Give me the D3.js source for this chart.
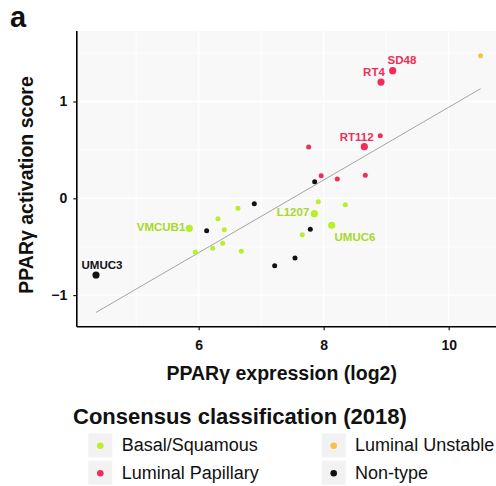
<!DOCTYPE html>
<html>
<head>
<meta charset="utf-8">
<script src="https://cdn.jsdelivr.net/npm/d3@7"></script>
<style>
  html, body { margin: 0; padding: 0; background: #fff; }
  svg { display: block; font-family: "Liberation Sans", Arial, sans-serif; }
</style>
</head>
<body>
<svg id="chart" width="496" height="486"></svg>
<script>
// ---- data ----
const cellLines = ["VMCUB1", "", "", "", "", "", "", "", "", "L1207", "", "UMUC6", "",
                   "RT4", "SD48", "RT112", "", "", "", "", "",
                   "UMUC3", "", "", "", "", "", "",
                   ""];
const expression = [5.85, 5.946, 6.224, 6.309, 6.384, 6.41, 6.629, 6.682, 7.658, 7.85, 7.914, 8.128, 8.346,
                    8.917, 9.104, 8.65, 8.906, 7.76, 7.96, 8.218, 8.666,
                    4.357, 6.128, 6.89, 7.216, 7.541, 7.786, 7.856,
                    10.51];
const activation = [-0.31, -0.555, -0.517, -0.211, -0.465, -0.324, -0.103, -0.548, -0.376, -0.159, -0.035, -0.279, -0.066,
                    1.201, 1.318, 0.533, 0.647, 0.53, 0.234, 0.199, 0.238,
                    -0.792, -0.335, -0.056, -0.696, -0.617, -0.32, 0.171,
                    1.473];
const subtype = ["Basal/Squamous","Basal/Squamous","Basal/Squamous","Basal/Squamous","Basal/Squamous","Basal/Squamous","Basal/Squamous","Basal/Squamous","Basal/Squamous","Basal/Squamous","Basal/Squamous","Basal/Squamous","Basal/Squamous",
                 "Luminal Papillary","Luminal Papillary","Luminal Papillary","Luminal Papillary","Luminal Papillary","Luminal Papillary","Luminal Papillary","Luminal Papillary",
                 "Non-type","Non-type","Non-type","Non-type","Non-type","Non-type","Non-type",
                 "Luminal Unstable"];
const legendOrder = ["Basal/Squamous", "Luminal Papillary", "Luminal Unstable", "Non-type"];
const xTicks = [6, 8, 10];
const yTicks = [-1, 0, 1];
const xMinor = [5, 7, 9];
const yMinor = [-0.5, 0.5, 1.5];

// ---- styles / layout ----
const colors = {
  "Basal/Squamous": "#bbee2a",
  "Luminal Papillary": "#f02d58",
  "Luminal Unstable": "#f7c343",
  "Non-type": "#111111"
};
const labelColors = {
  "Basal/Squamous": "#a6d92a",
  "Luminal Papillary": "#ec2e58",
  "Luminal Unstable": "#f7c343",
  "Non-type": "#111111"
};
const labelOffsets = {
  "SD48": [9.3, -10.7], "RT4": [-7, -10.5], "RT112": [-7.6, -9.7],
  "L1207": [-21.3, -1.7], "UMUC6": [23.3, 11.2], "VMCUB1": [-28.3, -1.6],
  "UMUC3": [6, -10]
};

const data = expression.map((x, i) => ({
  name: cellLines[i], x, y: activation[i], type: subtype[i]
}));

const svg = d3.select("#chart");
const P = { left: 76.8, right: 499.8, top: 31, bottom: 326.7 };
const x = d3.scaleLinear().domain([4.05, 10.818]).range([P.left, P.right]);
const y = d3.scaleLinear().domain([-1.326, 1.728]).range([P.bottom, P.top]);

// panel background
svg.append("rect").attr("x", P.left).attr("y", P.top)
  .attr("width", P.right - P.left).attr("height", P.bottom - P.top)
  .attr("fill", "#f8f8f8");

// grid
const g = svg.append("g");
g.selectAll(".xminor").data(xMinor).join("line")
  .attr("x1", d => x(d)).attr("x2", d => x(d)).attr("y1", P.top).attr("y2", P.bottom)
  .attr("stroke", "#fff").attr("stroke-width", 0.8);
g.selectAll(".yminor").data(yMinor).join("line")
  .attr("y1", d => y(d)).attr("y2", d => y(d)).attr("x1", P.left).attr("x2", P.right)
  .attr("stroke", "#fff").attr("stroke-width", 0.8);
g.selectAll(".xmajor").data(xTicks).join("line")
  .attr("x1", d => x(d)).attr("x2", d => x(d)).attr("y1", P.top).attr("y2", P.bottom)
  .attr("stroke", "#fff").attr("stroke-width", 1.3);
g.selectAll(".ymajor").data(yTicks).join("line")
  .attr("y1", d => y(d)).attr("y2", d => y(d)).attr("x1", P.left).attr("x2", P.right)
  .attr("stroke", "#fff").attr("stroke-width", 1.3);

// regression line (OLS computed from data)
const mx = d3.mean(data, d => d.x), my = d3.mean(data, d => d.y);
const slope = d3.sum(data, d => (d.x - mx) * (d.y - my)) / d3.sum(data, d => (d.x - mx) ** 2);
const icpt = my - slope * mx;
const [xmin, xmax] = d3.extent(data, d => d.x);
svg.append("line")
  .attr("x1", x(xmin)).attr("y1", y(icpt + slope * xmin))
  .attr("x2", x(xmax)).attr("y2", y(icpt + slope * xmax))
  .attr("stroke", "#9a9a9a").attr("stroke-width", 0.9);

// points
const sorted = data.slice().sort((a, b) => (a.name ? 1 : 0) - (b.name ? 1 : 0));
svg.append("g").selectAll("circle").data(sorted).join("circle")
  .attr("cx", d => x(d.x)).attr("cy", d => y(d.y))
  .attr("r", d => d.name ? 3.6 : 2.5)
  .attr("fill", d => colors[d.type]);

// labels
svg.append("g").selectAll("text").data(data.filter(d => d.name)).join("text")
  .attr("x", d => x(d.x) + labelOffsets[d.name][0])
  .attr("y", d => y(d.y) + labelOffsets[d.name][1] + 4.2)
  .attr("text-anchor", "middle")
  .attr("font-size", "11.5px").attr("font-weight", "bold")
  .attr("fill", d => labelColors[d.type])
  .text(d => d.name);

// axes
const xAxis = svg.append("g").attr("transform", `translate(0,${P.bottom})`)
  .call(d3.axisBottom(x).tickValues(xTicks).tickSize(3.5).tickPadding(10).tickFormat(d3.format("d")));
const yAxis = svg.append("g").attr("transform", `translate(${P.left},0)`)
  .call(d3.axisLeft(y).tickValues(yTicks).tickSize(3.5).tickPadding(6)
    .tickFormat(d => d < 0 ? "\u2212" + Math.abs(d) : String(d)));
[xAxis, yAxis].forEach(a => {
  a.select(".domain").attr("stroke", "#000").attr("stroke-width", 1.6);
  a.selectAll(".tick line").attr("stroke", "#000").attr("stroke-width", 1.1);
  a.selectAll(".tick text").attr("fill", "#111").attr("font-size", "14px")
    .attr("font-weight", "bold").attr("font-family", "Liberation Sans, Arial, sans-serif");
});
xAxis.select(".domain").attr("d", `M${P.left},0H${P.right}`);
yAxis.select(".domain").attr("d", `M0,${P.top}V${P.bottom}`);

// titles
svg.append("text").attr("x", 10).attr("y", 27).attr("font-size", "29px")
  .attr("font-weight", "bold").attr("fill", "#111").text("a");
svg.append("text").attr("x", 281.7).attr("y", 380)
  .attr("text-anchor", "middle").attr("font-size", "19.5px").attr("font-weight", "bold")
  .attr("fill", "#111").text("PPARγ expression (log2)");
svg.append("text").attr("transform", "translate(33,185) rotate(-90)")
  .attr("text-anchor", "middle").attr("font-size", "19.5px").attr("font-weight", "bold")
  .attr("fill", "#111").text("PPARγ activation score");

// legend
svg.append("text").attr("x", 73).attr("y", 424).attr("font-size", "22px")
  .attr("font-weight", "bold").attr("fill", "#111").text("Consensus classification (2018)");
const lg = svg.append("g").selectAll("g").data(legendOrder).join("g")
  .attr("transform", (d, i) => `translate(${i < 2 ? 88.3 : 321.7},${433.3 + (i % 2) * 27.4})`);
lg.append("rect").attr("width", 24).attr("height", 24).attr("fill", "#f2f2f2");
lg.append("circle").attr("cx", 12).attr("cy", 12.5).attr("r", 3.3).attr("fill", d => colors[d]);
lg.append("text").attr("x", 33.4).attr("y", 18.2).attr("font-size", "18px")
  .attr("fill", "#111").text(d => d);
</script>
</body>
</html>
